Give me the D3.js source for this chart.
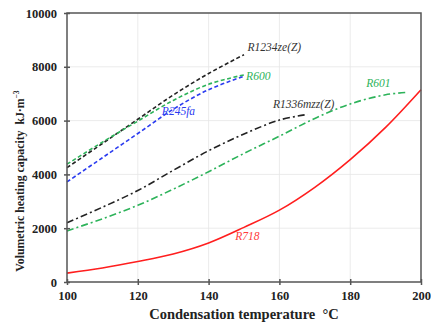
<!DOCTYPE html>
<html>
<head>
<meta charset="utf-8">
<script src="https://cdn.jsdelivr.net/npm/d3@7"></script>
<style>
  body { margin: 0; background: #fff; }
  svg { display: block; font-family: "Liberation Serif", "Times New Roman", serif; }
</style>
</head>
<body>
<div id="chart"></div>
<script>
// condensation temperature (°C) for each series
const tempShort = [100, 110, 120, 130, 140, 150];
const tempR1336 = [100, 110, 120, 130, 140, 150, 160, 168];
const tempR601 = [100, 110, 120, 130, 140, 150, 160, 170, 180, 190, 196];
const tempR718 = [100, 110, 120, 130, 140, 150, 160, 170, 180, 190, 200];

// volumetric heating capacity (kJ/m3)
const r1234zeZ = [4250, 5150, 6050, 6950, 7750, 8450];
const r600 = [4380, 5200, 5980, 6750, 7350, 7700];
const r245fa = [3720, 4620, 5520, 6420, 7150, 7650];
const r1336mzzZ = [2200, 2780, 3400, 4150, 4880, 5500, 6020, 6230];
const r601 = [1900, 2350, 2850, 3450, 4100, 4780, 5420, 6080, 6620, 6960, 7050];
const r718 = [330, 520, 760, 1040, 1450, 2030, 2670, 3520, 4550, 5750, 7150];

const xTicks = [100, 120, 140, 160, 180, 200];
const yTicks = [0, 2000, 4000, 6000, 8000, 10000];

const series = [
  { name: "R1234ze(Z)", x: tempShort, y: r1234zeZ, color: "#222", dash: "4,2.5" },
  { name: "R600", x: tempShort, y: r600, color: "#2db35a", dash: "4,2.5" },
  { name: "R245fa", x: tempShort, y: r245fa, color: "#2b3cf0", dash: "4,2.5" },
  { name: "R1336mzz(Z)", x: tempR1336, y: r1336mzzZ, color: "#222", dash: "7,3,2,3" },
  { name: "R601", x: tempR601, y: r601, color: "#2db35a", dash: "7,3,2,3" },
  { name: "R718", x: tempR718, y: r718, color: "#ff1e1e", dash: null }
];

// where each series name sits, in data units
const labels = [
  { text: "R1234ze(Z)", t: 151, v: 8590, color: "#333" },
  { text: "R600", t: 150.6, v: 7510, color: "#2db35a" },
  { text: "R245fa", t: 126.8, v: 6210, color: "#2b3cf0" },
  { text: "R1336mzz(Z)", t: 158.2, v: 6470, color: "#333" },
  { text: "R601", t: 184.5, v: 7250, color: "#2db35a" },
  { text: "R718", t: 147.5, v: 1560, color: "#ff3b3b" }
];

const width = 431, height = 327;
const margin = { top: 13, right: 10, bottom: 45, left: 67 };
const innerW = width - margin.left - margin.right;
const innerH = height - margin.top - margin.bottom;
const serif = "'Liberation Serif', 'Times New Roman', serif";

const svg = d3.select("#chart").append("svg")
  .attr("width", width)
  .attr("height", height);

const g = svg.append("g")
  .attr("transform", `translate(${margin.left}, ${margin.top})`);

const x = d3.scaleLinear().domain([100, 200]).range([0, innerW]);
const y = d3.scaleLinear().domain([0, 10000]).range([innerH, 0]);

// grid
g.selectAll(".vgrid").data(xTicks.slice(1, -1)).enter().append("line")
  .attr("x1", d => x(d)).attr("x2", d => x(d))
  .attr("y1", 0).attr("y2", innerH)
  .style("stroke", "#e6e6e6").style("stroke-width", 0.8);
g.selectAll(".hgrid").data(yTicks.slice(1, -1)).enter().append("line")
  .attr("x1", 0).attr("x2", innerW)
  .attr("y1", d => y(d)).attr("y2", d => y(d))
  .style("stroke", "#e6e6e6").style("stroke-width", 0.8);

// curves
const line = d3.line()
  .x(d => x(d[0]))
  .y(d => y(d[1]))
  .curve(d3.curveCatmullRom.alpha(0.5));

series.forEach(s => {
  const pts = s.x.map((t, i) => [t, s.y[i]]);
  g.append("path")
    .datum(pts)
    .attr("d", line)
    .style("fill", "none")
    .style("stroke", s.color)
    .style("stroke-width", 1.6)
    .style("stroke-dasharray", s.dash);
});

// frame
g.append("rect")
  .attr("width", innerW).attr("height", innerH)
  .style("fill", "none").style("stroke", "#555").style("stroke-width", 1.5);

// axes
const xAxis = d3.axisBottom(x).tickValues(xTicks).tickFormat(d3.format("d"))
  .tickSizeInner(3).tickSizeOuter(0).tickPadding(6);
const yAxis = d3.axisLeft(y).tickValues(yTicks).tickFormat(d3.format("d"))
  .tickSizeInner(3).tickSizeOuter(0).tickPadding(6);

const gx = g.append("g").attr("transform", `translate(0, ${innerH})`).call(xAxis);
const gy = g.append("g").call(yAxis);

[gx, gy].forEach(a => {
  a.attr("font-family", serif).attr("font-size", 12.5);
  a.select(".domain").remove();
  a.selectAll(".tick line").style("stroke", "#555").style("stroke-width", 1.5);
  a.selectAll(".tick text")
    .style("font-weight", "bold")
    .style("fill", "#222");
});
gx.selectAll(".tick line").attr("y1", -3).attr("y2", 3);
gy.selectAll(".tick line").attr("x1", -3).attr("x2", 3);
gy.selectAll(".tick text").attr("x", -10);

// series labels
g.selectAll(".series-label").data(labels).enter().append("text")
  .attr("x", d => x(d.t))
  .attr("y", d => y(d.v))
  .style("font-family", serif)
  .style("font-size", "11.5px")
  .style("font-style", "italic")
  .style("fill", d => d.color)
  .text(d => d.text);

// axis titles
svg.append("text")
  .attr("x", 244)
  .attr("y", 319)
  .attr("text-anchor", "middle")
  .style("font-family", serif)
  .style("font-size", "14.5px")
  .style("font-weight", "bold")
  .style("fill", "#222")
  .style("white-space", "pre")
  .text("Condensation temperature  \u00B0C");

const yt = svg.append("text")
  .attr("transform", "translate(24, 181) rotate(-90)")
  .attr("text-anchor", "middle")
  .style("font-family", serif)
  .style("font-size", "11.8px")
  .style("font-weight", "bold")
  .style("fill", "#222")
  .style("white-space", "pre");
yt.append("tspan").text("Volumetric heating capacity  kJ\u00B7m");
yt.append("tspan").attr("dy", -5).style("font-size", "7.5px").text("\u22123");
</script>
</body>
</html>
